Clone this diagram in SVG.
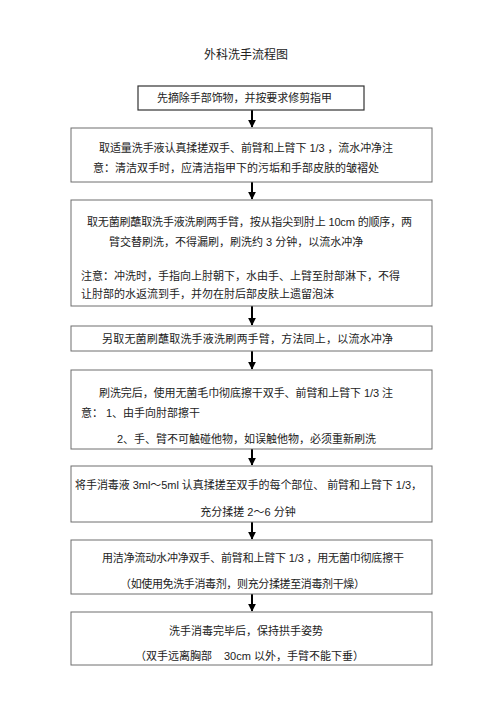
<svg xmlns="http://www.w3.org/2000/svg" width="500" height="708" viewBox="0 0 500 708">
<defs>
<style>
.box{fill:#fff;stroke:#6e6e6e;stroke-width:1}
.box1{fill:#fff;stroke:#333;stroke-width:1.2}
text{font-family:"Liberation Sans","Noto Sans CJK SC",sans-serif;font-size:11px;fill:#222}
.title{font-size:12px;font-family:"Noto Sans CJK SC",sans-serif}
.c{text-anchor:middle}
.arr{stroke:#000;stroke-width:2;fill:none}
</style>
<marker id="ah" viewBox="0 0 10 10" refX="9" refY="5" markerWidth="4" markerHeight="4" markerUnits="strokeWidth" orient="auto">
<path d="M0,0 L10,5 L0,10 z" fill="#000"/>
</marker>
</defs>
<rect width="500" height="708" fill="#fff"/>
<text class="title c" x="246" y="59">外科洗手流程图</text>

<g id="connectors">
<line class="arr" x1="252" y1="110" x2="252" y2="127" marker-end="url(#ah)"/>
<line class="arr" x1="252" y1="182" x2="252" y2="199" marker-end="url(#ah)"/>
<line class="arr" x1="252" y1="306" x2="252" y2="325" marker-end="url(#ah)"/>
<line class="arr" x1="252" y1="351" x2="252" y2="369" marker-end="url(#ah)"/>
<line class="arr" x1="252" y1="449" x2="252" y2="465" marker-end="url(#ah)"/>
<line class="arr" x1="252" y1="522" x2="252" y2="539" marker-end="url(#ah)"/>
<line class="arr" x1="252" y1="594" x2="252" y2="611" marker-end="url(#ah)"/>
</g>

<g id="n1">
<rect class="box1" x="138" y="86" width="226" height="24"/>
<text x="157" y="102" textLength="175" lengthAdjust="spacing">先摘除手部饰物，并按要求修剪指甲</text>
</g>

<g id="n2">
<rect class="box" x="71" y="128" width="361" height="54"/>
<text x="99" y="152" textLength="294" lengthAdjust="spacing">取适量洗手液认真揉搓双手、前臂和上臂下 1/3 ，流水冲净注</text>
<text x="93" y="172">意：清洁双手时，应清洁指甲下的污垢和手部皮肤的皱褶处</text>
</g>

<g id="n3">
<rect class="box" x="71" y="200" width="361" height="106"/>
<text x="87" y="226" textLength="325" lengthAdjust="spacing">取无菌刷蘸取洗手液洗刷两手臂，按从指尖到肘上 10cm 的顺序，两</text>
<text x="109" y="246">臂交替刷洗，不得漏刷，刷洗约 3 分钟，以流水冲净</text>
<text x="81" y="280">注意：冲洗时，手指向上肘朝下，水由手、上臂至肘部淋下，不得</text>
<text x="81" y="298">让肘部的水返流到手，并勿在肘后部皮肤上遗留泡沫</text>
</g>

<g id="n4">
<rect class="box" x="71" y="326" width="361" height="25"/>
<text x="102" y="343" textLength="291" lengthAdjust="spacing">另取无菌刷蘸取洗手液洗刷两手臂，方法同上，以流水冲净</text>
</g>

<g id="n5">
<rect class="box" x="71" y="370" width="361" height="79"/>
<text x="99" y="397" textLength="294" lengthAdjust="spacing">刷洗完后，使用无菌毛巾彻底擦干双手、前臂和上臂下 1/3 注</text>
<text x="81" y="417">意：<tspan x="106">1、由手向肘部擦干</tspan></text>
<text x="117" y="443">2、手、臂不可触碰他物，如误触他物，必须重新刷洗</text>
</g>

<g id="n6">
<rect class="box" x="71" y="466" width="361" height="56"/>
<text x="75" y="489" textLength="347" lengthAdjust="spacing">将手消毒液 3ml～5ml 认真揉搓至双手的每个部位、 前臂和上臂下 1/3，</text>
<text class="c" x="248" y="516">充分揉搓 2～6 分钟</text>
</g>

<g id="n7">
<rect class="box" x="71" y="540" width="361" height="54"/>
<text x="102" y="562" textLength="302" lengthAdjust="spacing">用洁净流动水冲净双手、前臂和上臂下 1/3 ，用无菌巾彻底擦干</text>
<text x="120" y="588" textLength="245" lengthAdjust="spacing">（如使用免洗手消毒剂，则充分揉搓至消毒剂干燥）</text>
</g>

<g id="n8">
<rect class="box" x="71" y="612" width="361" height="53"/>
<text class="c" x="246" y="635">洗手消毒完毕后，保持拱手姿势</text>
<text x="135" y="660">（双手远离胸部<tspan x="224">30cm 以外，手臂不能下垂）</tspan></text>
</g>
</svg>
